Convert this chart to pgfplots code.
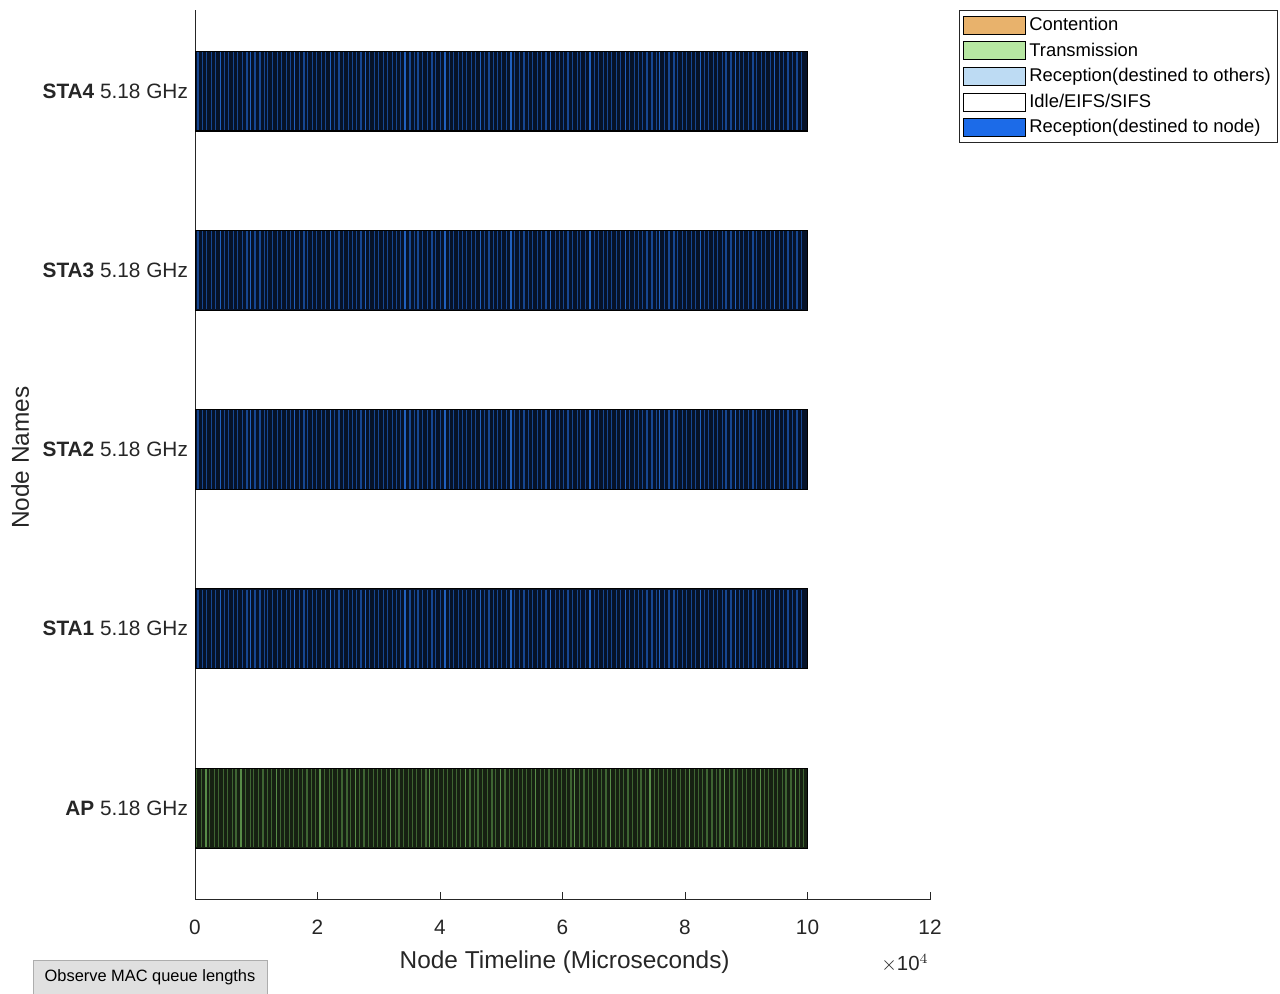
\documentclass[border=0pt]{standalone}
\usepackage{pgfplots}
\usepackage{pgfplotstable}
\pgfplotsset{compat=1.18}
\usepackage{fontspec}
\setmainfont{Liberation Sans}
\definecolor{axcol}{RGB}{38,38,38}
\definecolor{contention}{RGB}{232,178,108}
\definecolor{transm}{RGB}{183,231,162}
\definecolor{recoth}{RGB}{189,219,243}
\definecolor{recnode}{RGB}{28,107,232}
\definecolor{stabase}{RGB}{6,18,40}
\definecolor{stastripe}{RGB}{22,70,145}
\definecolor{stabright}{RGB}{32,96,190}
\definecolor{apbase}{RGB}{22,32,18}
\definecolor{apstripe}{RGB}{62,100,50}
\definecolor{apbright}{RGB}{88,140,72}

% stripe positions (x 10^4 microseconds)
\pgfplotstableread[row sep=\\]{x\\ 0.05\\ 0.12\\ 0.19\\ 0.27\\ 0.33\\ 0.41\\ 0.48\\ 0.55\\ 0.63\\ 0.69\\ 0.77\\ 0.85\\ 0.91\\ 0.98\\ 1.06\\ 1.13\\ 1.19\\ 1.27\\ 1.35\\ 1.41\\ 1.49\\ 1.56\\ 1.62\\ 1.70\\ 1.78\\ 1.84\\ 1.92\\ 1.99\\ 2.07\\ 2.13\\ 2.21\\ 2.28\\ 2.35\\ 2.42\\ 2.50\\ 2.57\\ 2.64\\ 2.71\\ 2.79\\ 2.85\\ 2.93\\ 3.00\\ 3.08\\ 3.14\\ 3.22\\ 3.29\\ 3.36\\ 3.43\\ 3.51\\ 3.58\\ 3.64\\ 3.72\\ 3.79\\ 3.87\\ 3.93\\ 4.01\\ 4.08\\ 4.15\\ 4.22\\ 4.30\\ 4.37\\ 4.43\\ 4.51\\ 4.58\\ 4.66\\ 4.72\\ 4.80\\ 4.87\\ 4.94\\ 5.01\\ 5.09\\ 5.16\\ 5.22\\ 5.30\\ 5.37\\ 5.45\\ 5.51\\ 5.59\\ 5.66\\ 5.73\\ 5.80\\ 5.88\\ 5.95\\ 6.01\\ 6.09\\ 6.16\\ 6.24\\ 6.30\\ 6.38\\ 6.45\\ 6.52\\ 6.59\\ 6.67\\ 6.74\\ 6.80\\ 6.88\\ 6.95\\ 7.03\\ 7.09\\ 7.17\\ 7.24\\ 7.31\\ 7.38\\ 7.46\\ 7.53\\ 7.59\\ 7.67\\ 7.74\\ 7.82\\ 7.88\\ 7.96\\ 8.03\\ 8.10\\ 8.17\\ 8.25\\ 8.32\\ 8.38\\ 8.46\\ 8.53\\ 8.61\\ 8.67\\ 8.75\\ 8.82\\ 8.89\\ 8.96\\ 9.04\\ 9.11\\ 9.17\\ 9.25\\ 9.32\\ 9.40\\ 9.46\\ 9.54\\ 9.61\\ 9.68\\ 9.75\\ 9.83\\ 9.90\\}\stastripes
\pgfplotstableread[row sep=\\]{x\\ 0.41\\ 0.91\\ 1.62\\ 2.21\\ 2.79\\ 3.43\\ 4.08\\ 4.66\\ 5.16\\ 5.80\\ 6.45\\ 7.03\\ 7.59\\ 8.25\\ 8.82\\ 9.46\\}\stabright
\pgfplotstableread[row sep=\\]{x\\ 0.03\\ 0.10\\ 0.18\\ 0.24\\ 0.32\\ 0.39\\ 0.46\\ 0.53\\ 0.61\\ 0.67\\ 0.75\\ 0.82\\ 0.90\\ 0.96\\ 1.04\\ 1.11\\ 1.18\\ 1.25\\ 1.33\\ 1.40\\ 1.46\\ 1.54\\ 1.61\\ 1.69\\ 1.75\\ 1.83\\ 1.90\\ 1.97\\ 2.04\\ 2.12\\ 2.19\\ 2.25\\ 2.33\\ 2.40\\ 2.48\\ 2.54\\ 2.62\\ 2.69\\ 2.76\\ 2.83\\ 2.91\\ 2.98\\ 3.04\\ 3.12\\ 3.19\\ 3.27\\ 3.33\\ 3.41\\ 3.48\\ 3.55\\ 3.62\\ 3.70\\ 3.77\\ 3.83\\ 3.91\\ 3.98\\ 4.06\\ 4.12\\ 4.20\\ 4.27\\ 4.34\\ 4.41\\ 4.49\\ 4.56\\ 4.62\\ 4.70\\ 4.77\\ 4.85\\ 4.91\\ 4.99\\ 5.06\\ 5.13\\ 5.20\\ 5.28\\ 5.35\\ 5.41\\ 5.49\\ 5.56\\ 5.64\\ 5.70\\ 5.78\\ 5.85\\ 5.92\\ 5.99\\ 6.07\\ 6.14\\ 6.20\\ 6.28\\ 6.35\\ 6.43\\ 6.49\\ 6.57\\ 6.64\\ 6.71\\ 6.78\\ 6.86\\ 6.93\\ 6.99\\ 7.07\\ 7.14\\ 7.22\\ 7.28\\ 7.36\\ 7.43\\ 7.50\\ 7.57\\ 7.65\\ 7.72\\ 7.78\\ 7.86\\ 7.93\\ 8.01\\ 8.07\\ 8.15\\ 8.22\\ 8.29\\ 8.36\\ 8.44\\ 8.51\\ 8.57\\ 8.65\\ 8.72\\ 8.80\\ 8.86\\ 8.94\\ 9.01\\ 9.08\\ 9.15\\ 9.23\\ 9.30\\ 9.36\\ 9.44\\ 9.51\\ 9.59\\ 9.65\\ 9.73\\ 9.80\\ 9.87\\ 9.94\\}\apstripes
\pgfplotstableread[row sep=\\]{x\\ 0.18\\ 0.75\\ 1.33\\ 2.04\\ 2.62\\ 3.19\\ 3.83\\ 4.41\\ 4.99\\ 5.56\\ 6.20\\ 6.78\\ 7.43\\ 8.07\\ 8.65\\ 9.23\\ 9.80\\}\apbright

\pgfplotsset{
  stripe/.style={forget plot, only marks, mark=|, mark size=19.6pt, mark options={#1, line width=0.6pt}},
}

\begin{document}
\begin{tikzpicture}
\begin{axis}[
  at={(97.5pt,47pt)}, anchor=south west,
  scale only axis, width=367.5pt, height=445pt,
  xmin=0, xmax=12, ymin=0.487, ymax=5.452,
  axis x line*=bottom, axis y line*=left,
  axis line style={axcol, line width=0.5pt},
  xtick={0,2,4,6,8,10,12},
  xticklabels={0,2,4,6,8,10,12},
  ytick={1,2,3,4,5},
  yticklabels={{\textbf{AP} 5.18 GHz},{\textbf{STA1} 5.18 GHz},{\textbf{STA2} 5.18 GHz},{\textbf{STA3} 5.18 GHz},{\textbf{STA4} 5.18 GHz}},
  ytick style={draw=none},
  xtick style={axcol, line width=0.5pt},
  tick align=inside, major tick length=4pt,
  tick label style={font=\fontsize{10.4}{12}\selectfont, text=axcol},
  xticklabel style={yshift=-6.5pt},
  /pgf/number format/assume math mode=true,
  xlabel={Node Timeline (Microseconds)},
  ylabel={Node Names},
  label style={font=\fontsize{12.2}{14}\selectfont, text=axcol},
  xlabel style={at={(axis description cs:0.503,-0.0697)}, anchor=center},
  ylabel style={at={(axis description cs:-0.238,0.497)}, anchor=center},
  clip=false,
  legend image code/.code={\draw[#1,draw=black,line width=0.5pt] (0pt,-4.5pt) rectangle (31pt,4.5pt);},
  legend style={at={(axis description cs:1.0395,1.0)}, anchor=north west,
    draw=axcol, line width=0.5pt, font=\fontsize{9.2}{10}\selectfont,
    inner sep=1.6pt, row sep=1.0pt,
    nodes={inner sep=1.8pt, text=black}},
  legend cell align=left,
]
% base bars
\addplot[xbar, bar width=0.446, bar shift=0pt, fill=stabase, draw=black, line width=0.4pt, forget plot]
  coordinates {(10,2) (10,3) (10,4) (10,5)};
\addplot[xbar, bar width=0.446, bar shift=0pt, fill=apbase, draw=black, line width=0.4pt, forget plot]
  coordinates {(10,1)};
% stripes
\addplot[stripe=stastripe] table[x index=0, y index=0, y expr=5] {\stastripes};
\addplot[stripe=stabright] table[x index=0, y index=0, y expr=5] {\stabright};
\addplot[stripe=stastripe] table[x index=0, y index=0, y expr=4] {\stastripes};
\addplot[stripe=stabright] table[x index=0, y index=0, y expr=4] {\stabright};
\addplot[stripe=stastripe] table[x index=0, y index=0, y expr=3] {\stastripes};
\addplot[stripe=stabright] table[x index=0, y index=0, y expr=3] {\stabright};
\addplot[stripe=stastripe] table[x index=0, y index=0, y expr=2] {\stastripes};
\addplot[stripe=stabright] table[x index=0, y index=0, y expr=2] {\stabright};
\addplot[stripe=apstripe] table[x index=0, y index=0, y expr=1] {\apstripes};
\addplot[stripe=apbright] table[x index=0, y index=0, y expr=1] {\apbright};
% outline again
\addplot[xbar, bar width=0.446, bar shift=0pt, fill=none, draw=black, line width=0.5pt, forget plot]
  coordinates {(10,1) (10,2) (10,3) (10,4) (10,5)};

\addlegendimage{fill=contention}
\addlegendentry{Contention}
\addlegendimage{fill=transm}
\addlegendentry{Transmission}
\addlegendimage{fill=recoth}
\addlegendentry{Reception(destined to others)}
\addlegendimage{fill=white}
\addlegendentry{Idle/EIFS/SIFS}
\addlegendimage{fill=recnode}
\addlegendentry{Reception(destined to node)}

\node[font=\fontsize{10.2}{12}\selectfont, text=axcol] at (axis description cs:0.966,-0.071) {$\times$10$^4$};
\end{axis}
\draw[fill=black!12, draw=black!32] (16.5pt,0pt) rectangle (133.5pt,17pt);
\node[font=\fontsize{8.2}{10}\selectfont] at (75pt,8.5pt) {Observe MAC queue lengths};
\pgfresetboundingbox
\path[use as bounding box] (0,0) rectangle (640pt,497pt);
\end{tikzpicture}
\end{document}
